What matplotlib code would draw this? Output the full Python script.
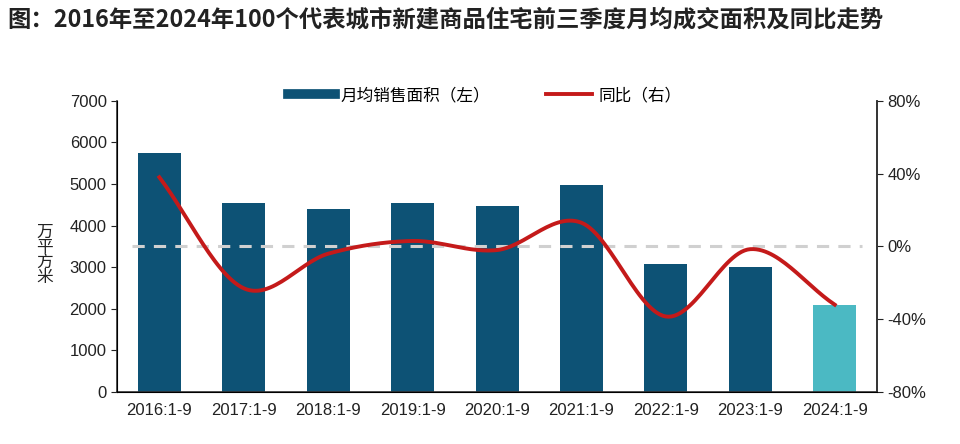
import numpy as np
import matplotlib
matplotlib.use("Agg")
import matplotlib.pyplot as plt
from matplotlib.lines import Line2D

plt.rcParams["font.family"] = ["Liberation Sans", "Noto Sans CJK SC", "DejaVu Sans"]

years = ["2016:1-9", "2017:1-9", "2018:1-9", "2019:1-9", "2020:1-9",
         "2021:1-9", "2022:1-9", "2023:1-9", "2024:1-9"]
area = [5750, 4540, 4400, 4540, 4470, 4980, 3080, 3010, 2090]
yoy = [38, -23, -4, 3, -2, 13, -38.5, -1.5, -32]


def smooth(x, y, n=30):
    # Catmull-Rom through the points, like Excel's smoothed line
    x = np.asarray(x, float)
    y = np.asarray(y, float)
    px = np.concatenate([[2 * x[0] - x[1]], x, [2 * x[-1] - x[-2]]])
    py = np.concatenate([[2 * y[0] - y[1]], y, [2 * y[-1] - y[-2]]])
    xs, ys = [], []
    t = np.linspace(0, 1, n)
    for i in range(1, len(px) - 2):
        for p, out in ((px, xs), (py, ys)):
            p0, p1, p2, p3 = p[i - 1], p[i], p[i + 1], p[i + 2]
            out.extend(0.5 * (2 * p1 + (-p0 + p2) * t
                              + (2 * p0 - 5 * p1 + 4 * p2 - p3) * t ** 2
                              + (-p0 + 3 * p1 - 3 * p2 + p3) * t ** 3))
    return np.array(xs), np.array(ys)


cjk = ["Noto Sans CJK SC", "DejaVu Sans"]
fig = plt.figure(figsize=(9.6, 4.44), dpi=100)
ax = fig.add_axes([0.122, 0.117, 0.7915, 0.656])
x = np.arange(len(years))
colors = ["#0d5275"] * (len(years) - 1) + ["#4bb9c3"]
ax.bar(x, area, width=0.51, color=colors, zorder=2)
ax.set_ylim(0, 7000)
ax.set_xlim(-0.5, len(years) - 0.5)
ax.set_yticks(range(0, 7001, 1000))
ax.set_xticks(x)
ax.set_xticklabels(years)
ax.spines["top"].set_visible(False)
for s in ["left", "bottom", "right"]:
    ax.spines[s].set_color("#333333")
    ax.spines[s].set_linewidth(1.2)
ax.tick_params(axis="y", labelsize=12, length=4, colors="#222222")
ax.tick_params(axis="x", labelsize=12, length=0, pad=8, colors="#222222")

ax2 = ax.twinx()
ax2.set_ylim(-80, 80)
ax2.set_yticks([-80, -40, 0, 40, 80])
ax2.set_yticklabels([f"{v}%" for v in [-80, -40, 0, 40, 80]])
ax2.spines["top"].set_visible(False)
ax2.spines["right"].set_color("#333333")
ax2.spines["right"].set_linewidth(1.2)
ax2.tick_params(axis="y", labelsize=12, length=4, colors="#222222")
ax2.axhline(0, xmin=0.02, xmax=0.98, color="#d0d0d0", lw=2.2, ls=(0, (4, 3)), zorder=1)
sx, sy = smooth(x, yoy)
ax2.plot(sx, sy, color="#c41a1a", lw=2.8, zorder=3)

ax.text(-0.095, 0.47, "万\n平\n方\n米", transform=ax.transAxes, ha="center",
        va="center", fontsize=12, linespacing=1.0, color="#222222")

fig.text(0.008, 0.955, "图：2016年至2024年100个代表城市新建商品住宅前三季度月均成交面积及同比走势",
         fontsize=16.8, fontweight="bold", color="#222222", va="center", family=cjk)

handles = [Line2D([], [], color="#0d5275", lw=7),
           Line2D([], [], color="#c41a1a", lw=2.8)]
fig.legend(handles, ["月均销售面积（左）", "同比（右）"], loc="center",
           bbox_to_anchor=(0.505, 0.785), ncol=2, frameon=False,
           handlelength=2.8, handletextpad=0.35, columnspacing=3.3,
           prop={"family": cjk, "size": 12})

fig.savefig("out.png", dpi=100)
